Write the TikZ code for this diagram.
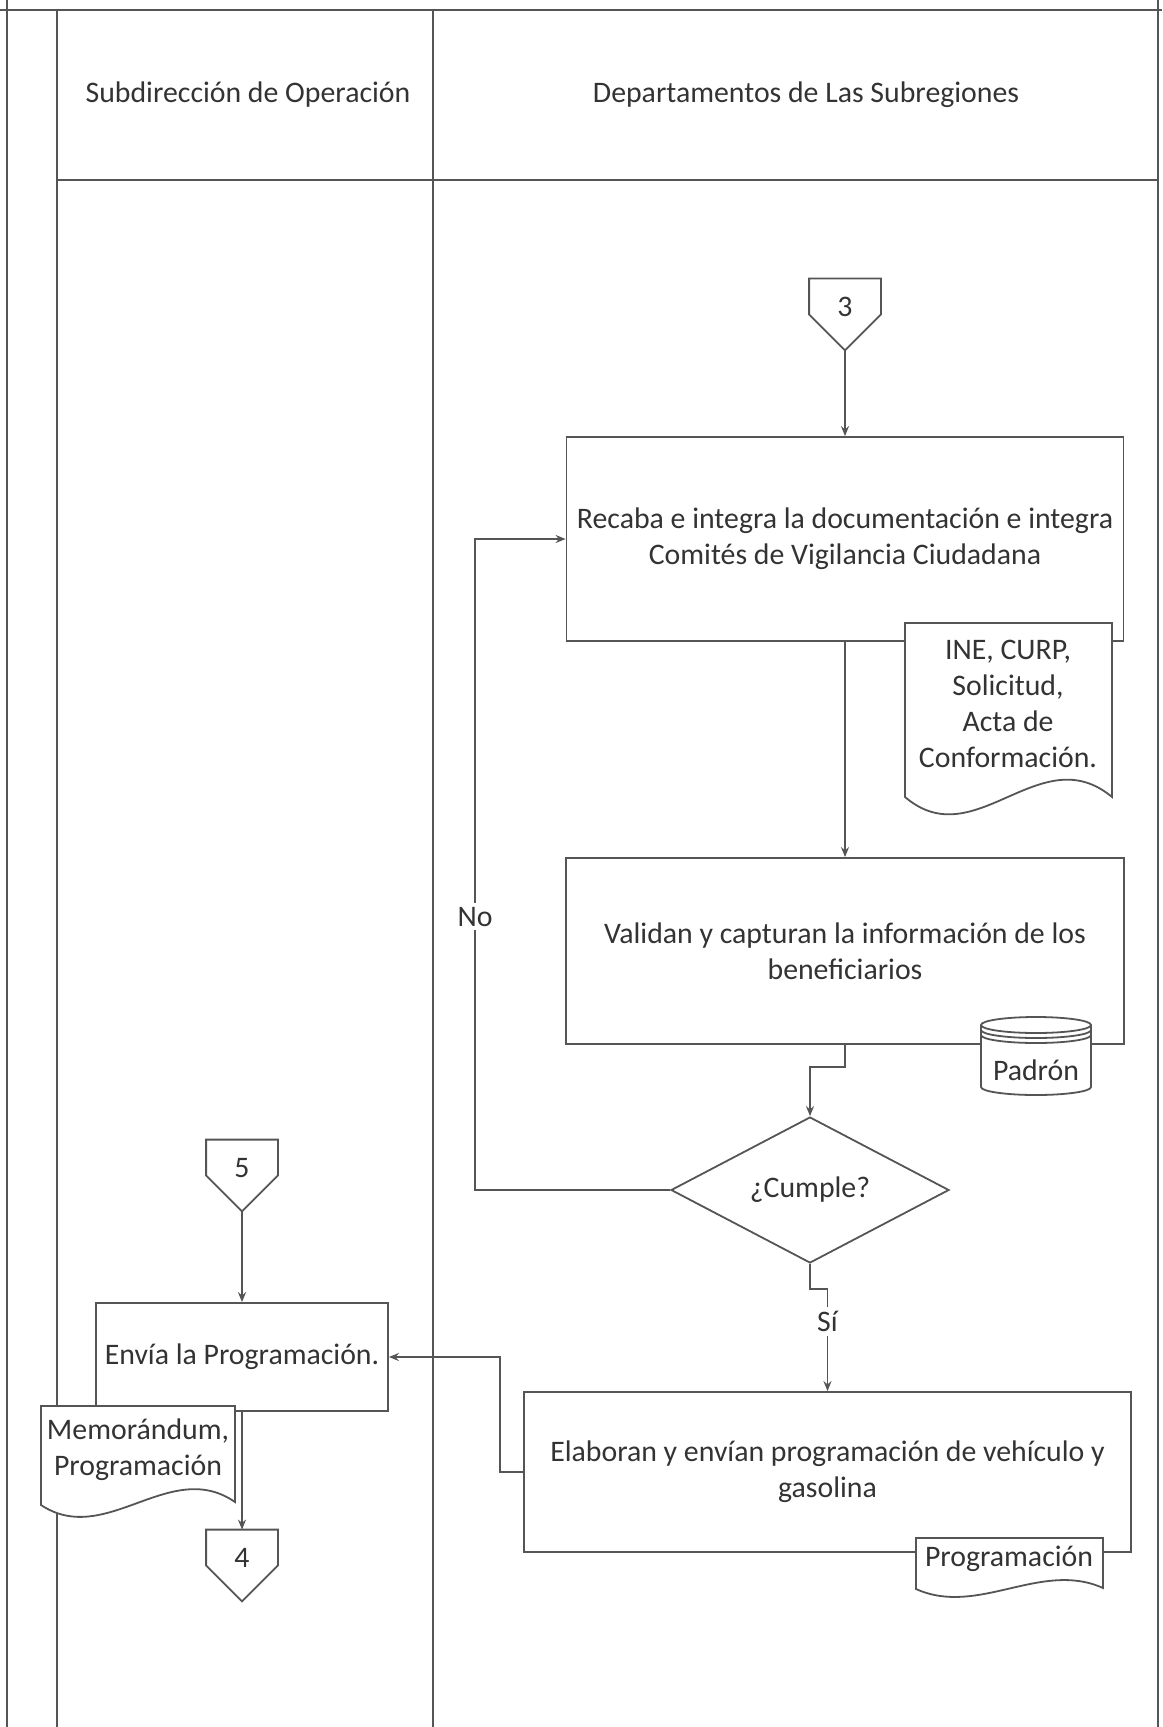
\documentclass[tikz,border=0pt]{standalone}
\usepackage{fontspec}
\setmainfont{Carlito}
\usepackage{tikz}
\usetikzlibrary{shapes.geometric,arrows.meta}
\definecolor{lineclr}{HTML}{555555}
\definecolor{txtclr}{HTML}{333333}
\tikzstyle{lane}=[draw=lineclr,line width=1.4pt]
\tikzstyle{proc}=[rectangle,draw=lineclr,line width=0.9pt,align=center,text=txtclr,inner sep=0pt]
\tikzstyle{offpage}=[rectangle,minimum width=35.5pt,minimum height=35.5pt,inner sep=0pt,text depth=8pt,text=txtclr]
\tikzstyle{decision}=[diamond,draw=lineclr,line width=0.9pt,minimum width=139pt,minimum height=66pt,inner sep=0pt,text=txtclr]
\tikzstyle{outline}=[draw=lineclr,line width=0.9pt,fill=white]
\tikzstyle{plain}=[align=center,text=txtclr,inner sep=0pt]
\tikzstyle{flow}=[draw=lineclr,line width=0.9pt,-{Stealth[length=5pt,width=4pt]}]
\tikzstyle{edgelabel}=[fill=white,text=txtclr,inner sep=2pt]

\begin{document}
\begin{tikzpicture}[x=0.5pt,y=0.5pt,font=\fontsize{14.9pt}{18pt}\selectfont]
    \useasboundingbox (0,0) rectangle (1162,-1727);
    % lanes
    \draw[lane] (0,-10) -- (1162,-10);
    \draw[lane] (7,0) -- (7,-1727);
    \draw[lane] (57,-10) -- (57,-1727);
    \draw[lane] (433,-10) -- (433,-1727);
    \draw[lane] (1158,0) -- (1158,-1727);
    \draw[lane] (57,-180) -- (1158,-180);
    \node[plain] (h1) at (248,-95) {Subdirección de Operación};
    \node[plain] (h2) at (806,-95) {Departamentos de Las Subregiones};

    % steps
    \node[offpage] (c3) at (845,-314.5) {3};
    \node[proc,minimum width=278.5pt,minimum height=102pt] (b1) at (845,-539) {Recaba e integra la documentación e integra\\Comités de Vigilancia Ciudadana};
    \node[proc,minimum width=279pt,minimum height=93pt] (b2) at (845,-951) {Validan y capturan la información de los\\beneficiarios};
    \node[decision] (dia) at (810,-1190) {¿Cumple?};
    \node[proc,minimum width=303.5pt,minimum height=80pt] (b3) at (827.5,-1472) {Elaboran y envían programación de vehículo y\\gasolina};
    \node[offpage] (c5) at (242,-1175.5) {5};
    \node[proc,minimum width=146pt,minimum height=54pt] (env) at (242,-1357) {Envía la Programación.};
    \node[offpage] (c4) at (242,-1565.5) {4};
    \foreach \c in {c3,c4,c5}
    \draw[outline,fill=none] (\c.north west) -- (\c.north east) -- (\c.east) -- (\c.south) -- (\c.west) -- cycle;

    % documents and data
    \draw[outline] (905,-623) -- (1112,-623) -- (1112,-797) .. controls (1040,-737) and (975,-857) .. (905,-797) -- cycle;
    \node[plain] (d1) at (1008,-704) {INE, CURP,\\Solicitud,\\Acta de\\Conformación.};
    \draw[outline] (41,-1406) -- (235,-1406) -- (235,-1502) .. controls (170,-1457) and (106,-1548) .. (41,-1505) -- cycle;
    \node[plain] (d2) at (138,-1450) {Memorándum,\\Programación};
    \draw[outline] (916,-1538) -- (1103,-1538) -- (1103,-1588) .. controls (1041,-1560) and (978,-1617) .. (916,-1589) -- cycle;
    \node[plain] (d3) at (1009,-1559) {Programación};
    \draw[outline] (981,-1025) -- (981,-1087) arc[start angle=180,end angle=360,x radius=55,y radius=8] -- (1091,-1025) arc[start angle=0,end angle=180,x radius=55,y radius=8] -- cycle;
    \foreach \s in {0,5,10}
    \draw[outline,fill=none] (981,-1025-\s) arc[start angle=180,end angle=360,x radius=55,y radius=8];
    \node[plain] (pad) at (1036,-1070) {Padrón};

    % flow
    \draw[flow] (c3.south) -- (b1.north);
    \draw[flow] (b1.south) -- (b2.north);
    \draw[flow] (b2.south) -- ++(0,-22) -| (dia.north);
    \draw[flow] (dia.south) -- ++(0,-25) -| node[edgelabel,pos=0.66] {Sí} (b3.north);
    \draw[flow] (dia.west) -- ++(-195,0) |- node[edgelabel,pos=0.21] {No} (b1.west);
    \draw[flow] (b3.west) -- ++(-23,0) |- (env.east);
    \draw[flow] (c5.south) -- (env.north);
    \draw[flow] (env.south) -- (c4.north);
\end{tikzpicture}
\end{document}
